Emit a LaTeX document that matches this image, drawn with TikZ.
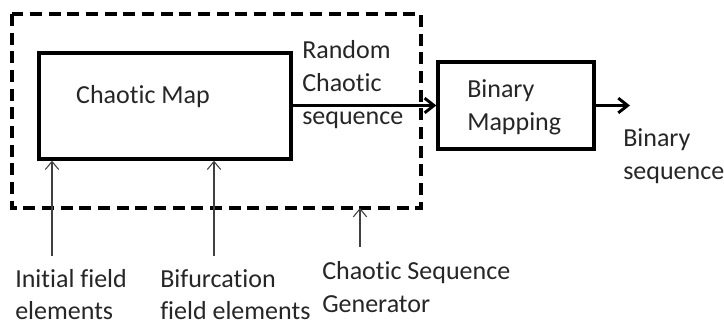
\documentclass[tikz,border=0pt]{standalone}
\usepackage{fontspec}
\setmainfont[RawFeature=-liga]{Carlito}
\usetikzlibrary{arrows.meta}

\begin{document}
\begin{tikzpicture}
[x=0.75pt,y=-0.75pt,%
  every node/.style={font=\fontsize{19.5}{25}\selectfont,text=black!85},%
  block/.style={draw,line width=2.5pt,inner sep=0pt},%
  label/.style={anchor=north west,align=left,inner sep=0pt},%
  flow/.style={-{Straight Barb[length=7pt,width=11pt,line width=2.2pt]},line width=2.5pt},%
  feed/.style={-{Straight Barb[length=6pt,width=10pt]},line width=0.8pt,black!75}]
\useasboundingbox (0,0) rectangle (724,327);
% generator frame
\draw[line width=2.5pt,dash pattern=on 9pt off 5pt] (12,14) rectangle (421,208);
\node[block,minimum width=252*0.75pt,minimum height=106*0.75pt] (map) at (165,106) {};
\node (maptext) at (143,97) {Chaotic Map};
\node[block,minimum width=156*0.75pt,minimum height=87*0.75pt] (bin) at (516,105.5) {};
\node[label] (bintext) at (467,79) {Binary\\Mapping};
% signals
\node[label] (rcs) at (302,40) {Random\\Chaotic\\sequence};
\node[label] (bseq) at (623,128) {Binary\\sequence};
\coordinate (out) at (630,105.5);
\draw[flow] (map.east |- bin.west) -- (bin.west);
\draw[flow] (bin.east) -- (out);
% inputs
\node[label,font=\fontsize{19.5}{24}\selectfont] (init) at (15,269) {Initial field\\elements};
\node[label,font=\fontsize{19.5}{24}\selectfont] (bif) at (160,269) {Bifurcation\\field elements};
\node[label] (gen) at (322,261) {Chaotic Sequence\\Generator};
\coordinate (initend) at (52,256);
\coordinate (bifend) at (214,256);
\coordinate (genend) at (360,247);
\coordinate (frame) at (360,208);
\draw[feed] (initend) -- (initend |- map.south);
\draw[feed] (bifend) -- (bifend |- map.south);
\draw[feed] (genend) -- (frame);
\end{tikzpicture}
\end{document}
